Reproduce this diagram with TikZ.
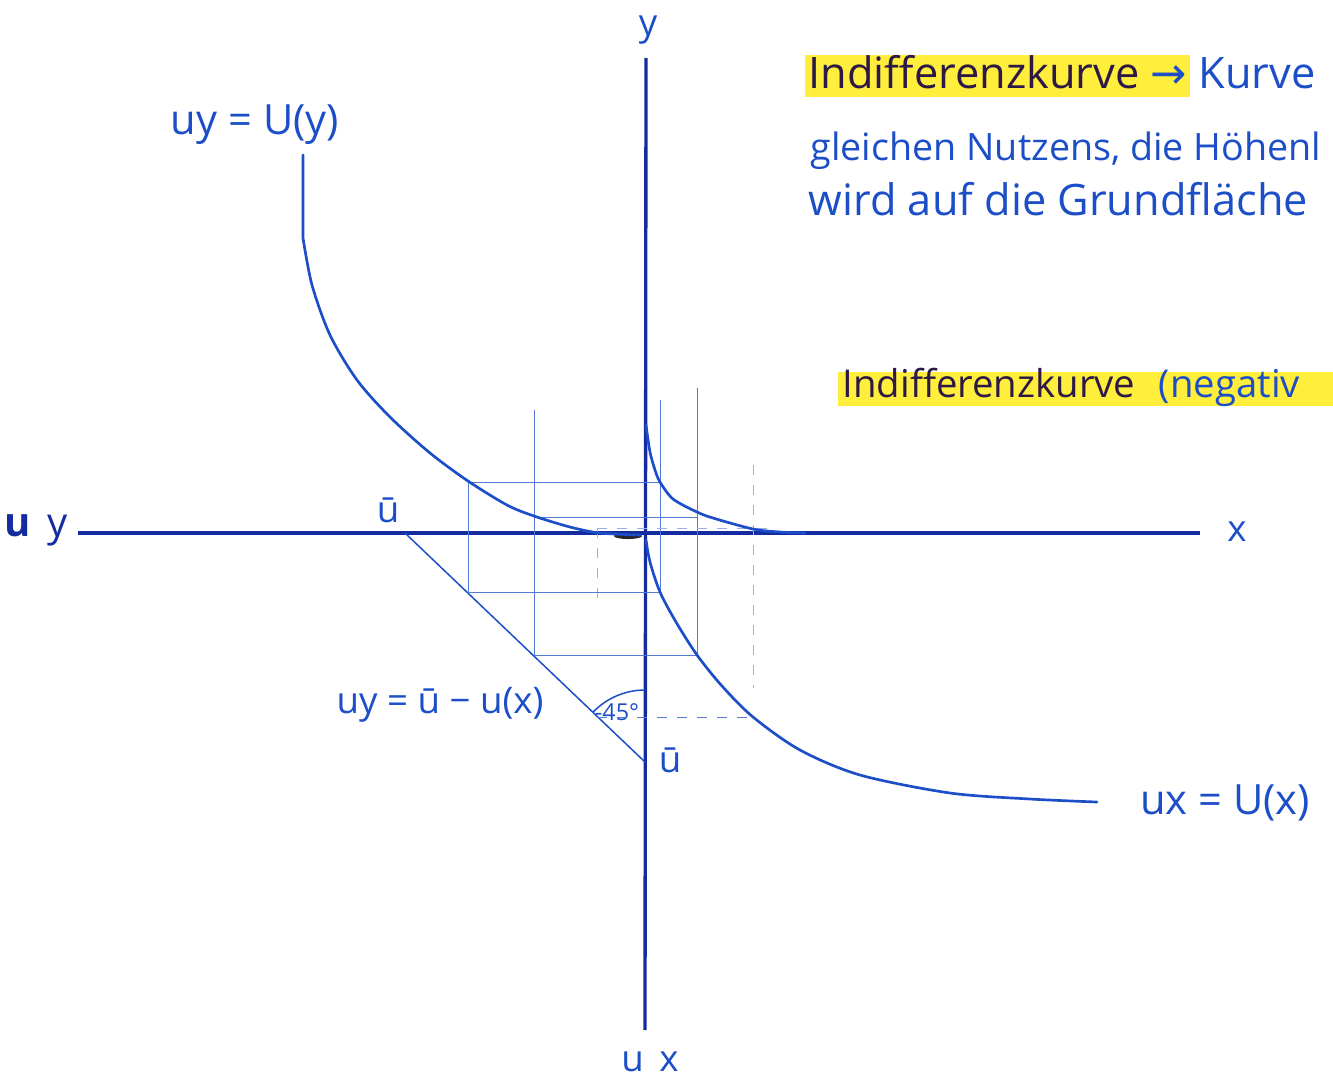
\documentclass[tikz,border=0pt]{standalone}
\usepackage{fontspec}
\setmainfont{Open Sans}
\newfontfamily\symfont{DejaVu Sans}
\usetikzlibrary{positioning}
\definecolor{ink}{RGB}{28,78,200}
\definecolor{inkdark}{RGB}{20,44,160}
\definecolor{marker}{RGB}{255,238,60}
\definecolor{markink}{RGB}{45,25,70}

\begin{document}
\begin{tikzpicture}[x=0.3pt,y=-0.3pt,font=\fontsize{11}{13}\selectfont,
  axis/.style={inkdark,line width=1pt},
  curve/.style={ink,line width=0.8pt,line cap=round},
  aux/.style={ink!75,line width=0.3pt},
  lbl/.style={ink,inner sep=0pt},
  note/.style={lbl,anchor=base west}]
  \clip (0,0) rectangle (1333,1086);
  % axes
  \coordinate (xl) at (78,533);  \coordinate (xr) at (1200,533);
  \coordinate (yt) at (646,58);  \coordinate (yb) at (645,1030);
  \draw[axis] (xl) -- (xr);
  \draw[axis] (yt) -- (yb);
  \fill[black!85] (628,536) ellipse (14 and 3);
  \node[lbl] (ylab)  at (648,30)   {y};
  \node[lbl] (xlab)  at (1237,532) {x};
  \node[lbl,inkdark,font=\fontsize{12}{14}\selectfont] (uylab) at (36,530) {\textbf{u}\, y};
  \node[lbl] (uxlab) at (650,1062) {u\, x};
  % 45 degree line between the two u-bar points
  \coordinate (ubx) at (405,533);
  \coordinate (uby) at (645,762);
  \draw[ink,line width=0.45pt] (ubx) -- (uby);
  \draw[ink,line width=0.45pt] (645,690) arc[start angle=270,end angle=224,radius=72];
  \node[lbl,font=\fontsize{7}{8}\selectfont] (ang) at (617,712) {-45°};
  \node[lbl] (ubxlab) at (388,510) {ū};
  \node[lbl] (ubylab) at (670,760) {ū};
  \node[lbl] (diaglab) at (440,705) {uy = ū − u(x)};
  % construction lines
  \draw[aux] (468,483) -- (468,592);
  \draw[aux] (534,410) -- (534,655);
  \draw[aux,dashed,ink!45] (597,528) -- (597,605);
  \draw[aux] (660,400) -- (660,592);
  \draw[aux] (697,388) -- (697,655);
  \draw[aux,dashed,ink!45] (753,465) -- (753,688);
  \draw[aux] (468,482) -- (660,482);
  \draw[aux] (534,517) -- (697,517);
  \draw[aux,dashed,ink!45] (597,528) -- (770,528);
  \draw[aux] (468,592) -- (660,592);
  \draw[aux] (534,655) -- (697,655);
  \draw[aux,dashed] (597,717) -- (753,717);
  % indifference curves
  \draw[curve] (303,155) -- (303,238) plot[smooth] coordinates {(303,238) (312,285) (330,335)
    (357,380) (390,417) (430,453) (468,481) (507,505) (534,516) (570,527) (600,533) (640,535)};
  \draw[curve] plot[smooth] coordinates {(646,425) (650,452) (655,470) (660,482) (673,499)
    (697,512) (713,518) (753,529) (780,532) (805,533)};
  \draw[curve] plot[smooth] coordinates {(646,540) (650,562) (660,592) (676,622) (697,655)
    (722,686) (753,717) (800,750) (860,775) (950,793) (1030,799) (1097,802)};
  \node[lbl,font=\fontsize{12.5}{14}\selectfont] (uyfun) at (255,125) {uy = U(y)};
  \node[lbl,font=\fontsize{12.5}{14}\selectfont] (uxfun) at (1225,803) {ux = U(x)};
  % notes
  \fill[marker] (805,55) rectangle (1190,97);
  \fill[marker] (838,372) rectangle (1333,406);
  \node[note,font=\fontsize{13}{15}\selectfont] (note1) at (808,88)
    {\textcolor{markink}{Indifferenzkurve} {\symfont →} Kurve};
  \node[note,font=\fontsize{11.3}{14}\selectfont] (note2) at (810,160)
    {gleichen Nutzens, die Höhenl};
  \node[note,font=\fontsize{13}{15}\selectfont] (note3) at (808,215)
    {wird auf die Grundfläche};
  \node[note,font=\fontsize{11.5}{14}\selectfont] (note4) at (842,397)
    {\textcolor{markink}{Indifferenzkurve}\hspace{7pt}(negativ};
\end{tikzpicture}
\end{document}
